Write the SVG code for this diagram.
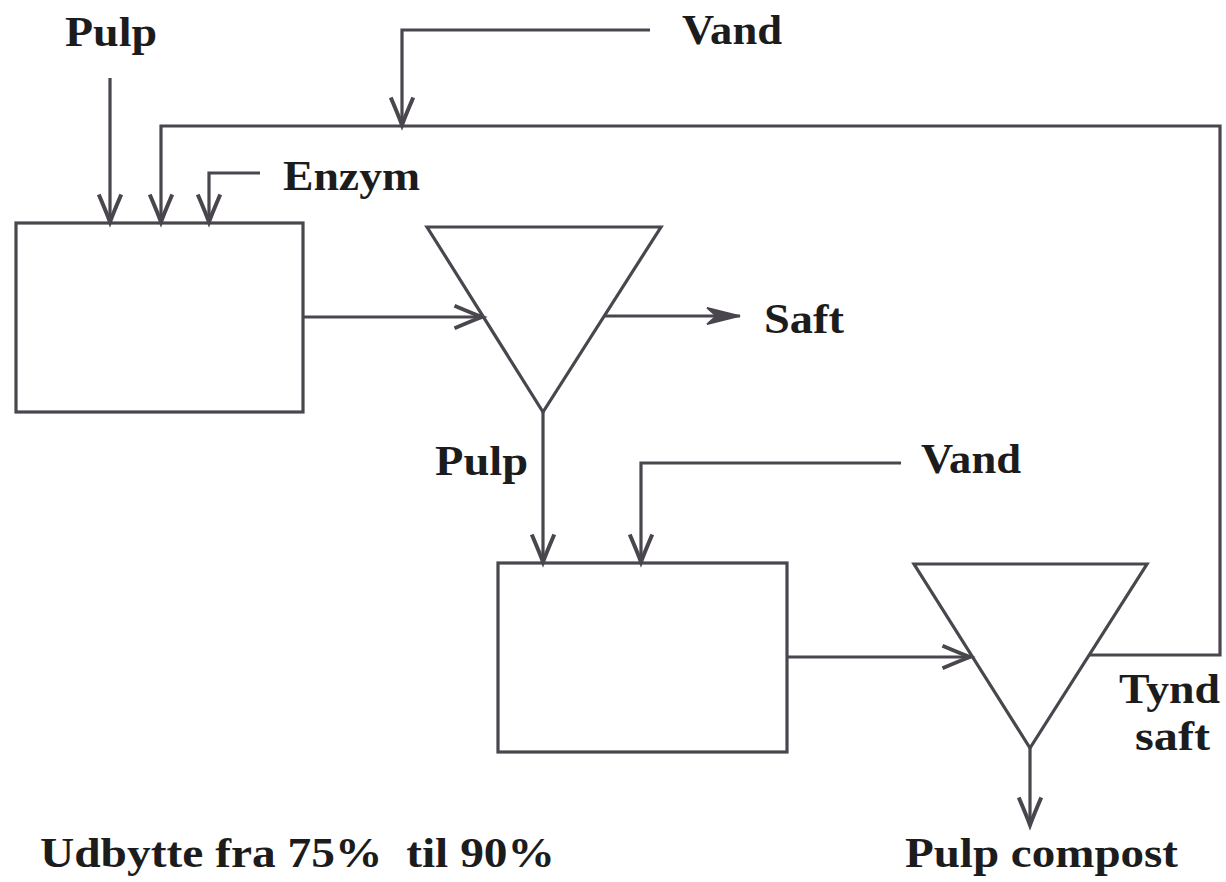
<svg xmlns="http://www.w3.org/2000/svg" width="1226" height="882" viewBox="0 0 1226 882">
<style>
.shape{fill:#fff;stroke:#4a464e;stroke-width:3.2}
.conn{fill:none;stroke:#4a464e;stroke-width:3.2}
.lbl{font-family:"Liberation Serif","Times New Roman",serif;font-weight:bold;font-size:43px;fill:#1c1c1c;white-space:pre}
</style>
<defs>
<marker id="open" markerUnits="userSpaceOnUse" markerWidth="40" markerHeight="30" refX="0" refY="0" viewBox="-26 -12 30 24" orient="auto">
<path d="M-22,-9 Q-8,-3 0,0 Q-8,3 -22,9" fill="none" stroke="#4a464e" stroke-width="3.2"/>
</marker>
<marker id="solid" markerUnits="userSpaceOnUse" markerWidth="40" markerHeight="30" refX="0" refY="0" viewBox="-30 -12 34 24" orient="auto">
<path d="M-28,-7 L0,0 L-28,7 L-20,0 Z" fill="#4a464e" stroke="#4a464e" stroke-width="1.5"/>
</marker>
</defs>
<rect width="1226" height="882" fill="#fff"/>
<g id="mixer1"><rect class="shape" x="16" y="223" width="287" height="189"/></g>
<g id="separator1"><polygon class="shape" points="427,227 661,227 543,412"/></g>
<g id="mixer2"><rect class="shape" x="498" y="563" width="289" height="189"/></g>
<g id="separator2"><polygon class="shape" points="914,564 1147,564 1030,748"/></g>
<g id="connectors">
<path class="conn" d="M110,78 V222" marker-end="url(#open)"/>
<path class="conn" d="M1089,655 H1220 V126 H161 V222" marker-end="url(#open)"/>
<path class="conn" d="M650,30 H402 V125" marker-end="url(#open)"/>
<path class="conn" d="M260,173 H209 V222" marker-end="url(#open)"/>
<path class="conn" d="M303,317 H482" marker-end="url(#open)"/>
<path class="conn" d="M604,316 H740" marker-end="url(#solid)"/>
<path class="conn" d="M543,412 V562" marker-end="url(#open)"/>
<path class="conn" d="M901,463 H641 V562" marker-end="url(#open)"/>
<path class="conn" d="M787,657 H970" marker-end="url(#open)"/>
<path class="conn" d="M1030,748 V825" marker-end="url(#open)"/>
</g>
<g id="labels">
<text class="lbl" x="65" y="46" textLength="92" lengthAdjust="spacingAndGlyphs">Pulp</text>
<text class="lbl" x="682" y="44" textLength="100" lengthAdjust="spacingAndGlyphs">Vand</text>
<text class="lbl" x="283" y="190" textLength="137" lengthAdjust="spacingAndGlyphs">Enzym</text>
<text class="lbl" x="764" y="333" textLength="80" lengthAdjust="spacingAndGlyphs">Saft</text>
<text class="lbl" x="435" y="475" textLength="93" lengthAdjust="spacingAndGlyphs">Pulp</text>
<text class="lbl" x="921" y="473" textLength="100" lengthAdjust="spacingAndGlyphs">Vand</text>
<text class="lbl" x="1119" y="703" textLength="101" lengthAdjust="spacingAndGlyphs">Tynd</text>
<text class="lbl" x="1135" y="750" textLength="75" lengthAdjust="spacingAndGlyphs">saft</text>
<text class="lbl" x="40" y="867" textLength="515" lengthAdjust="spacingAndGlyphs" xml:space="preserve">Udbytte fra 75%  til 90%</text>
<text class="lbl" x="905" y="867" textLength="273" lengthAdjust="spacingAndGlyphs">Pulp compost</text>
</g>
</svg>
